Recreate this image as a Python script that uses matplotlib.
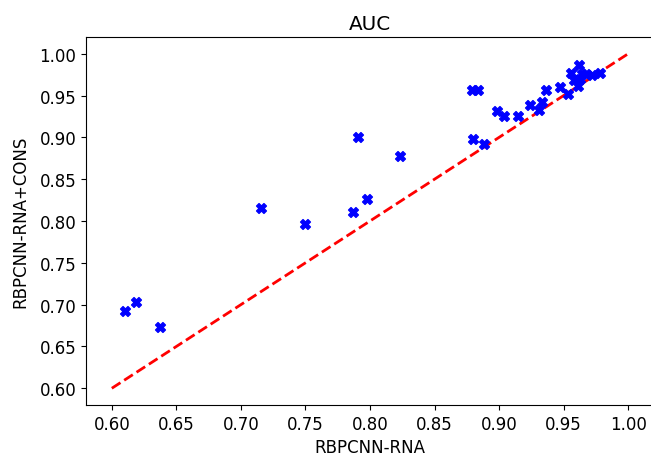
import matplotlib
matplotlib.use("Agg")
import matplotlib.pyplot as plt

plt.rcParams['font.size'] = 12

# AUC per dataset: sequence-only model vs. sequence + conservation
auc_rna = [0.610, 0.619, 0.637, 0.7155, 0.750, 0.787, 0.791, 0.798, 0.823,
           0.879, 0.884, 0.880, 0.888, 0.898, 0.904, 0.915, 0.924, 0.931,
           0.933, 0.936, 0.947, 0.953, 0.956, 0.962, 0.964, 0.961, 0.967,
           0.972, 0.978, 0.963, 0.958]
auc_rna_cons = [0.692, 0.703, 0.673, 0.815, 0.797, 0.811, 0.900, 0.826, 0.878,
                0.957, 0.957, 0.898, 0.892, 0.932, 0.926, 0.926, 0.939, 0.933,
                0.942, 0.957, 0.960, 0.952, 0.977, 0.986, 0.976, 0.961, 0.976,
                0.975, 0.977, 0.970, 0.968]
diag = [0.6, 1.0]

fig = plt.figure(figsize=(6.51, 4.56), dpi=100)
ax = fig.add_axes([86 / 651, 50 / 456, 568 / 651, 368 / 456])

ax.scatter(auc_rna, auc_rna_cons, marker='X', color='blue', s=50, zorder=3)
ax.plot(diag, diag, 'r--', linewidth=2)

ax.set_xlim(0.58, 1.02)
ax.set_ylim(0.58, 1.02)
ax.spines['right'].set_visible(False)
ax.set_xticks([0.60, 0.65, 0.70, 0.75, 0.80, 0.85, 0.90, 0.95, 1.00])
ax.set_yticks([0.60, 0.65, 0.70, 0.75, 0.80, 0.85, 0.90, 0.95, 1.00])
ax.set_xlabel("RBPCNN-RNA", labelpad=4)
ax.set_ylabel("RBPCNN-RNA+CONS", labelpad=7)
ax.set_title("AUC")

fig.savefig("out.png", dpi=100)
